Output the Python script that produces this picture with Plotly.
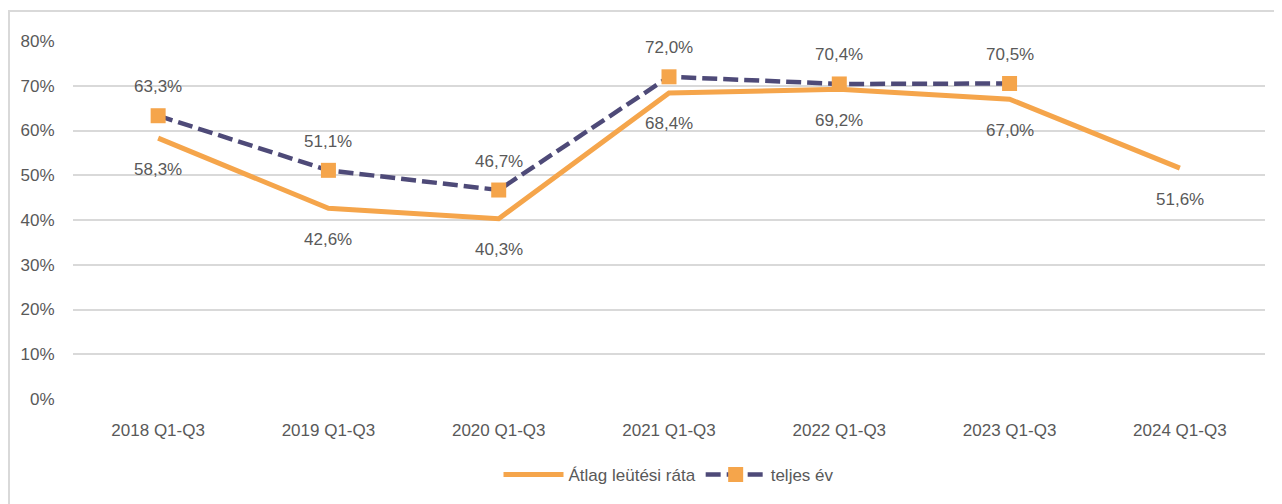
import plotly.graph_objects as go

categories = ["2018 Q1-Q3", "2019 Q1-Q3", "2020 Q1-Q3", "2021 Q1-Q3", "2022 Q1-Q3", "2023 Q1-Q3", "2024 Q1-Q3"]
atlag = [0.583, 0.426, 0.403, 0.684, 0.692, 0.670, 0.516]
teljes = [0.633, 0.511, 0.467, 0.720, 0.704, 0.705, None]

FONT = "Liberation Sans Narrow, Arial Narrow, Liberation Sans, Arial, sans-serif"
TXT = "#595959"
ORANGE = "#F5A54B"
PURPLE = "#4E4A78"

W, H = 1274, 496
L, T = 65, 33
PR, PB = 1257, 392  # plot right / bottom in figure px
PH = PB - T

def fmt(v):
    return f"{v*100:.1f}%".replace(".", ",")

fig = go.Figure()
fig.add_trace(go.Scatter(x=categories, y=atlag, mode="lines", name="Átlag leütési ráta",
                         line=dict(color=ORANGE, width=5)))
fig.add_trace(go.Scatter(x=categories, y=teljes, mode="lines+markers", name="teljes év",
                         line=dict(color=PURPLE, width=4.5, dash="15px,6px"),
                         marker=dict(symbol="square", size=15, color=ORANGE)))

for c, v in zip(categories, atlag):
    fig.add_annotation(x=c, y=v, text=fmt(v), showarrow=False, yshift=-31,
                       font=dict(family=FONT, size=17, color=TXT))
for c, v in zip(categories, teljes):
    if v is not None:
        fig.add_annotation(x=c, y=v, text=fmt(v), showarrow=False, yshift=29,
                           font=dict(family=FONT, size=17, color=TXT))

# outer border
fig.add_shape(type="rect", xref="paper", yref="paper",
              x0=(1 - L) / (PR - L), x1=1.05, y0=-0.5, y1=1 + (T - 3) / PH,
              line=dict(color="#D9D9D9", width=2), fillcolor="rgba(0,0,0,0)", layer="below")

fig.update_layout(
    width=W, height=H,
    margin=dict(l=L, r=W - PR, t=T, b=H - PB),
    paper_bgcolor="white", plot_bgcolor="white",
    separators=", ",
    font=dict(family=FONT, size=17, color=TXT),
    showlegend=True,
    legend=dict(orientation="h", x=0.5, xanchor="center", y=(PB - 467) / PH, yanchor="middle",
                font=dict(family=FONT, size=17, color=TXT), itemwidth=60),
    xaxis=dict(type="category", range=[-0.5, 6.5], showgrid=False, showline=False, zeroline=False,
               ticks="outside", ticklen=16, tickcolor="rgba(0,0,0,0)",
               tickfont=dict(family=FONT, size=17, color=TXT)),
    yaxis=dict(range=[0, 0.8], dtick=0.1, tickformat=".0%", showgrid=True, gridcolor="#D9D9D9",
               gridwidth=2, zeroline=False, showline=False,
               ticks="outside", ticklen=14, tickcolor="rgba(0,0,0,0)",
               tickfont=dict(family=FONT, size=17, color=TXT)),
)

fig.write_html("out.html")
